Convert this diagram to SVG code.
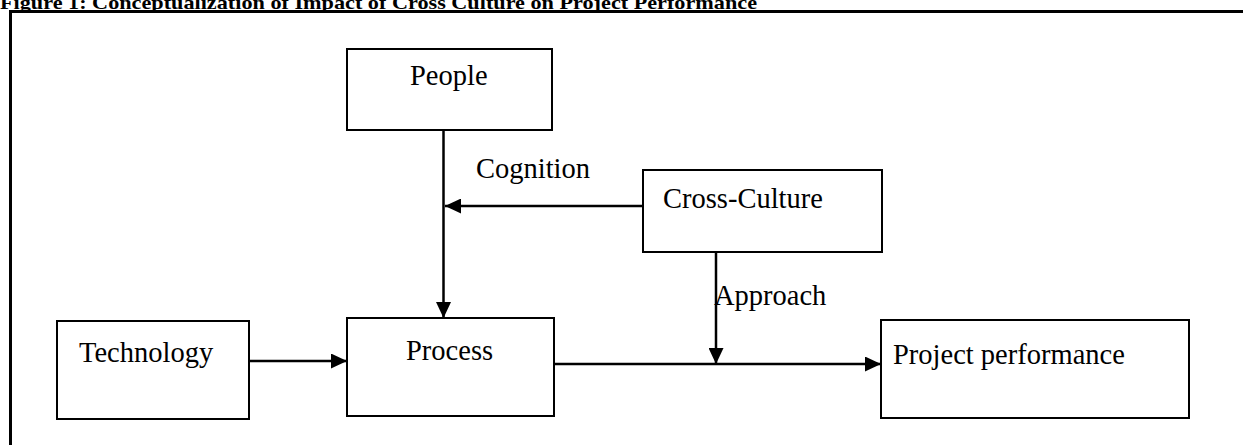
<svg xmlns="http://www.w3.org/2000/svg" width="1243" height="445" viewBox="0 0 1243 445">
<defs>
<style>
.box{fill:#fff;stroke:#000;stroke-width:2}
.lbl{font-family:"Liberation Serif","Times New Roman",serif;font-size:28.5px;fill:#000}
.ln{stroke:#000;stroke-width:2.5;fill:none}
.title{font-family:"Liberation Serif",serif;font-weight:bold;font-size:19px;fill:#000}
</style>
<marker id="ah" markerUnits="userSpaceOnUse" markerWidth="17" markerHeight="15" refX="16" refY="7.5" orient="auto">
<path d="M0,0 L16,7.5 L0,15 Z" fill="#000"/>
</marker>
</defs>
<rect width="1243" height="445" fill="#fff"/>
<text class="title" x="0" y="8.5" textLength="757" lengthAdjust="spacingAndGlyphs">Figure 1: Conceptualization of Impact of Cross Culture on Project Performance</text>
<g id="frame">
<line x1="9" y1="11.5" x2="1243" y2="11.5" stroke="#000" stroke-width="3"/>
<line x1="10.5" y1="10" x2="10.5" y2="445" stroke="#000" stroke-width="3"/>
</g>
<g id="connectors">
<line class="ln" x1="443.5" y1="130" x2="443.5" y2="318" marker-end="url(#ah)"/>
<line class="ln" x1="643" y1="206" x2="445" y2="206" marker-end="url(#ah)"/>
<line class="ln" x1="716" y1="252" x2="716" y2="364" marker-end="url(#ah)"/>
<line class="ln" x1="245" y1="361" x2="347" y2="361" marker-end="url(#ah)"/>
<line class="ln" x1="551" y1="364" x2="881" y2="364" marker-end="url(#ah)"/>
<text class="lbl" x="476" y="178">Cognition</text>
<text class="lbl" x="714" y="305">Approach</text>
</g>
<g id="people">
<rect class="box" x="347" y="49" width="205" height="81"/>
<text class="lbl" x="410" y="85">People</text>
</g>
<g id="cross-culture">
<rect class="box" x="643" y="170" width="239" height="82"/>
<text class="lbl" x="663" y="208">Cross-Culture</text>
</g>
<g id="technology">
<rect class="box" x="57" y="321" width="192" height="98"/>
<text class="lbl" x="79" y="362">Technology</text>
</g>
<g id="process">
<rect class="box" x="347" y="318" width="207" height="98"/>
<text class="lbl" x="406" y="360">Process</text>
</g>
<g id="project-performance">
<rect class="box" x="881" y="320" width="308" height="98"/>
<text class="lbl" x="893" y="364">Project performance</text>
</g>
</svg>
